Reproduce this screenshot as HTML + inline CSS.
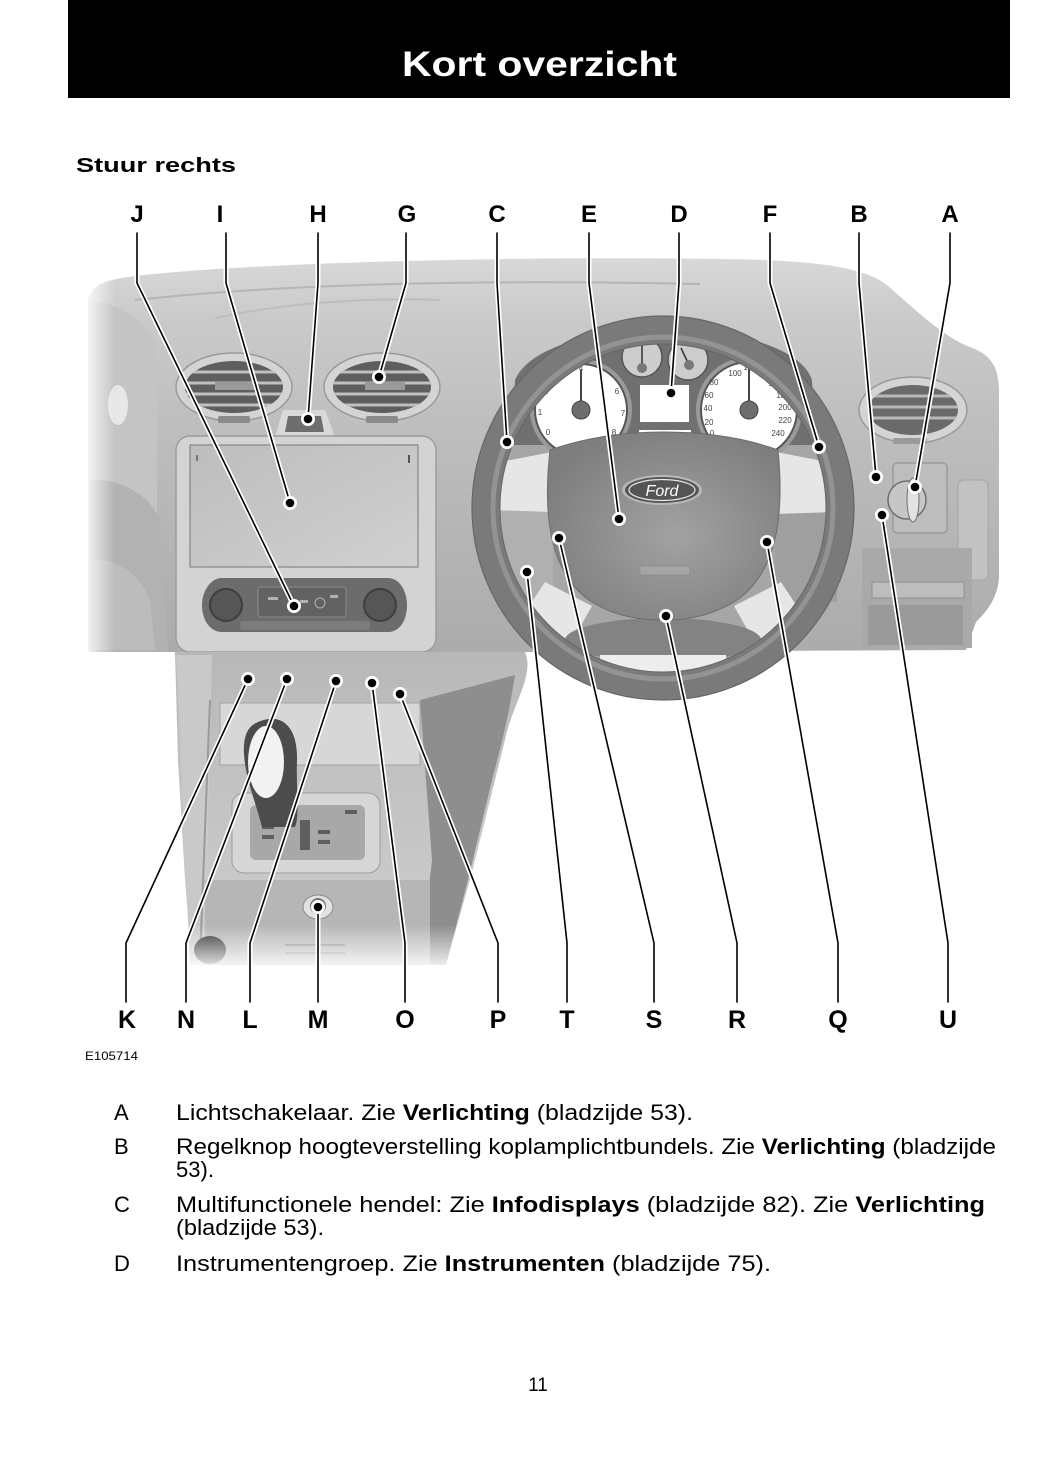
<!DOCTYPE html>
<html><head><meta charset="utf-8"><style>
html,body{margin:0;padding:0;background:#fff;}
svg{display:block;}
text{font-family:"Liberation Sans",Arial,sans-serif;}
</style></head><body>
<svg width="1047" height="1480" viewBox="0 0 1047 1480" xmlns="http://www.w3.org/2000/svg">
<defs>
<linearGradient id="dash" x1="0" y1="258" x2="0" y2="655" gradientUnits="userSpaceOnUse">
<stop offset="0" stop-color="#d8d8d8"/><stop offset="0.15" stop-color="#cacaca"/><stop offset="0.45" stop-color="#bdbdbd"/><stop offset="1" stop-color="#ababab"/></linearGradient>
<linearGradient id="fadeL" x1="0" x2="1"><stop offset="0" stop-color="#fff" stop-opacity="0.9"/><stop offset="1" stop-color="#fff" stop-opacity="0"/></linearGradient>
<linearGradient id="fadeB" x1="0" y1="0" x2="0" y2="1"><stop offset="0" stop-color="#fff" stop-opacity="0"/><stop offset="1" stop-color="#fff" stop-opacity="1"/></linearGradient>
<linearGradient id="cons" x1="0" y1="650" x2="0" y2="965" gradientUnits="userSpaceOnUse"><stop offset="0" stop-color="#b8b8b8"/><stop offset="1" stop-color="#cfcfcf"/></linearGradient>
<linearGradient id="screen" x1="0" y1="0" x2="1" y2="1"><stop offset="0" stop-color="#bdbdbd"/><stop offset="1" stop-color="#d0d0d0"/></linearGradient>
<radialGradient id="hub" cx="0.55" cy="0.55" r="0.6"><stop offset="0" stop-color="#a2a2a2"/><stop offset="1" stop-color="#7e7e7e"/></radialGradient>
<clipPath id="v1"><ellipse cx="234" cy="387" rx="49" ry="26"/></clipPath>
<clipPath id="v2"><ellipse cx="382" cy="387" rx="49" ry="26"/></clipPath>
<clipPath id="v3"><ellipse cx="913" cy="410" rx="45" ry="25"/></clipPath>
</defs>

<!-- header -->
<rect x="68" y="0" width="942" height="98" fill="#000"/>
<text x="402" y="76" font-size="35" font-weight="bold" fill="#fff" textLength="275" lengthAdjust="spacingAndGlyphs">Kort overzicht</text>
<text x="76" y="172" font-size="20" font-weight="bold" fill="#000" textLength="160" lengthAdjust="spacingAndGlyphs">Stuur rechts</text>

<!-- dash body -->
<path d="M88,300 C92,284 105,280 135,276 C260,262 520,256 720,259 C810,260 865,266 888,286 C918,312 945,338 970,347 C992,355 999,368 999,392 L999,578 C997,600 986,612 976,622 L966,650 L525,652 L175,652 L88,652 Z" fill="url(#dash)"/>
<path d="M88,300 C100,300 140,310 157,345 L157,652 L88,652 Z" fill="#c4c4c4"/>
<path d="M90,480 C120,478 150,495 160,520 L168,652 L90,652 Z" fill="#b2b2b2"/>
<path d="M95,560 C120,560 140,575 150,600 L155,650 L95,650 Z" fill="#bcbcbc"/>
<ellipse cx="118" cy="405" rx="10" ry="20" fill="#fff" opacity="0.6"/>
<rect x="85" y="270" width="30" height="385" fill="url(#fadeL)"/>
<path d="M135,300 C300,282 500,280 700,284" stroke="#b5b5b5" stroke-width="2" fill="none"/>
<path d="M215,318 C300,300 380,298 440,300" stroke="#bdbdbd" stroke-width="2" fill="none"/>

<!-- vents -->
<ellipse cx="234" cy="387" rx="58" ry="34" fill="#d4d4d4" stroke="#9a9a9a" stroke-width="1.5"/>
<ellipse cx="234" cy="387" rx="49" ry="26" fill="#5e5e5e"/>
<g clip-path="url(#v1)" stroke="#c0c0c0" stroke-width="3"><line x1="180" y1="372" x2="290" y2="372"/><line x1="180" y1="383" x2="290" y2="383"/><line x1="180" y1="394" x2="290" y2="394"/><line x1="180" y1="405" x2="290" y2="405"/><rect x="215" y="382" width="40" height="8" fill="#9a9a9a" stroke="none"/></g>
<rect x="218" y="416" width="32" height="7" rx="2" fill="#8a8a8a"/>
<ellipse cx="382" cy="387" rx="58" ry="34" fill="#d4d4d4" stroke="#9a9a9a" stroke-width="1.5"/>
<ellipse cx="382" cy="387" rx="49" ry="26" fill="#5e5e5e"/>
<g clip-path="url(#v2)" stroke="#c0c0c0" stroke-width="3"><line x1="330" y1="372" x2="440" y2="372"/><line x1="330" y1="383" x2="440" y2="383"/><line x1="330" y1="394" x2="440" y2="394"/><line x1="330" y1="405" x2="440" y2="405"/><rect x="365" y="382" width="40" height="8" fill="#9a9a9a" stroke="none"/></g>
<rect x="366" y="416" width="32" height="7" rx="2" fill="#8a8a8a"/>
<path d="M275,437 L283,410 L325,410 L335,437 Z" fill="#d9d9d9"/>
<path d="M285,432 L288,416 L321,416 L324,432 Z" fill="#6e6e6e"/>

<!-- center stack -->
<rect x="176" y="436" width="260" height="216" rx="14" fill="#d3d3d3" stroke="#9c9c9c" stroke-width="1.5"/>
<rect x="190" y="445" width="228" height="122" fill="url(#screen)" stroke="#777" stroke-width="1"/>
<rect x="196" y="455" width="2" height="6" fill="#777"/><rect x="408" y="455" width="2" height="8" fill="#555"/>
<path d="M222,578 L388,578 C400,578 407,592 407,605 C407,620 400,632 388,632 L222,632 C210,632 202,620 202,605 C202,592 210,578 222,578 Z" fill="#6c6c6c"/>
<circle cx="226" cy="605" r="16" fill="#565656" stroke="#3e3e3e" stroke-width="2"/>
<circle cx="380" cy="605" r="16" fill="#565656" stroke="#3e3e3e" stroke-width="2"/>
<rect x="258" y="587" width="88" height="30" rx="3" fill="#626262" stroke="#8a8a8a" stroke-width="1"/>
<g fill="#b0b0b0"><rect x="268" y="597" width="10" height="3"/><rect x="300" y="600" width="8" height="3"/><circle cx="320" cy="603" r="5" fill="none" stroke="#b0b0b0"/><rect x="330" y="595" width="8" height="3"/></g>
<rect x="240" y="621" width="130" height="9" rx="3" fill="#7c7c7c"/>

<!-- switch strip -->
<rect x="203" y="657" width="220" height="36" fill="#c7c7c7" stroke="#9a9a9a" stroke-width="1"/>
<rect x="210" y="670" width="18" height="14" fill="#b7b7b7"/>
<g fill="#bdbdbd" stroke="#7d7d7d" stroke-width="1.2">
<rect x="235" y="662" width="32" height="30"/><rect x="268" y="662" width="34" height="30"/><rect x="320" y="662" width="33" height="30"/><rect x="355" y="662" width="33" height="30"/></g>
<rect x="303" y="663" width="14" height="28" fill="#555"/>
<g stroke="#ccc" stroke-width="1.5"><line x1="305" y1="668" x2="315" y2="668"/><line x1="305" y1="673" x2="315" y2="673"/><line x1="305" y1="678" x2="315" y2="678"/><line x1="305" y1="683" x2="315" y2="683"/><line x1="305" y1="688" x2="315" y2="688"/></g>
<rect x="392" y="665" width="21" height="26" fill="#dadada" stroke="#999"/>
<rect x="395" y="679" width="13" height="5" fill="#777"/>

<!-- console -->
<path d="M175,652 L525,652 C535,675 512,705 505,740 L470,880 L446,965 L192,965 L185,880 L178,760 Z" fill="url(#cons)"/>
<path d="M420,700 L515,675 C508,720 500,750 492,780 L468,880 L446,965 L420,965 L432,860 Z" fill="#8e8e8e"/>
<path d="M176,655 L212,655 L205,965 L190,965 Z" fill="#c9c9c9"/>
<line x1="210" y1="700" x2="200" y2="960" stroke="#9a9a9a" stroke-width="2"/>
<rect x="220" y="703" width="200" height="62" fill="#d7d7d7" stroke="#a3a3a3"/>
<rect x="232" y="793" width="148" height="80" rx="12" fill="#d6d6d6" stroke="#9d9d9d"/>
<rect x="250" y="805" width="115" height="55" rx="6" fill="#a8a8a8"/>
<g fill="#5e5e5e"><rect x="262" y="815" width="12" height="4"/><rect x="262" y="825" width="12" height="4"/><rect x="262" y="835" width="12" height="4"/><rect x="300" y="820" width="10" height="30"/><rect x="318" y="830" width="12" height="4"/><rect x="318" y="840" width="12" height="4"/><rect x="345" y="810" width="12" height="4"/></g>
<path d="M258,722 C280,712 298,725 297,760 C296,790 300,815 295,827 L262,827 C255,800 246,780 244,755 C243,735 248,726 258,722 Z" fill="#4c4c4c"/>
<ellipse cx="266" cy="762" rx="18" ry="36" fill="#f2f2f2"/>
<rect x="205" y="880" width="225" height="85" fill="#b6b6b6"/>
<ellipse cx="318" cy="907" rx="15" ry="12" fill="#e2e2e2" stroke="#8a8a8a"/>
<circle cx="318" cy="906" r="8" fill="#777"/>
<g stroke="#8f8f8f" stroke-width="2"><line x1="285" y1="945" x2="345" y2="945"/><line x1="285" y1="953" x2="345" y2="953"/></g>
<ellipse cx="210" cy="950" rx="16" ry="14" fill="#333"/>
<rect x="180" y="925" width="280" height="48" fill="url(#fadeB)"/>

<!-- right side -->
<ellipse cx="913" cy="410" rx="54" ry="33" fill="#d4d4d4" stroke="#999" stroke-width="1.5"/>
<ellipse cx="913" cy="410" rx="45" ry="25" fill="#6a6a6a"/>
<g clip-path="url(#v3)" stroke="#b8b8b8" stroke-width="3"><line x1="860" y1="396" x2="965" y2="396"/><line x1="860" y1="407" x2="965" y2="407"/><line x1="860" y1="418" x2="965" y2="418"/></g>
<rect x="893" y="438" width="34" height="6" rx="2" fill="#9a9a9a"/>
<rect x="893" y="463" width="54" height="70" rx="4" fill="#bdbdbd" stroke="#8a8a8a"/>
<circle cx="907" cy="500" r="19" fill="#c6c6c6" stroke="#6f6f6f" stroke-width="1.5"/>
<ellipse cx="913" cy="500" rx="6" ry="22" fill="#e2e2e2" stroke="#6f6f6f"/>
<rect x="958" y="480" width="30" height="100" rx="6" fill="#c2c2c2" stroke="#a5a5a5"/>
<rect x="862" y="548" width="110" height="100" fill="#a9a9a9"/>
<rect x="872" y="582" width="92" height="16" fill="#bdbdbd" stroke="#8f8f8f"/>
<rect x="868" y="605" width="95" height="40" fill="#9a9a9a"/>

<!-- inside wheel -->
<ellipse cx="663" cy="508" rx="170" ry="172" fill="#a6a6a6"/>
<path d="M512,445 L515,380 C530,345 600,330 663,328 C730,330 800,345 812,380 L815,445 Z" fill="#707070"/>
<circle cx="581" cy="410" r="51" fill="#9a9a9a"/>
<circle cx="581" cy="410" r="46" fill="#fff" stroke="#555" stroke-width="2"/>
<circle cx="749" cy="410" r="53" fill="#9a9a9a"/>
<circle cx="749" cy="410" r="48" fill="#fff" stroke="#555" stroke-width="2"/>
<circle cx="642" cy="357" r="20" fill="#cdcdcd" stroke="#555" stroke-width="1.5"/>
<circle cx="688" cy="360" r="20" fill="#cdcdcd" stroke="#555" stroke-width="1.5"/>
<line x1="642" y1="368" x2="642" y2="343" stroke="#333" stroke-width="1.5"/><circle cx="642" cy="368" r="5" fill="#777"/>
<line x1="689" y1="365" x2="681" y2="348" stroke="#333" stroke-width="1.5"/><circle cx="689" cy="365" r="5" fill="#777"/>
<rect x="640" y="385" width="49" height="37" fill="#fff"/>
<rect x="639" y="430" width="52" height="14" fill="#fff"/>
<g font-size="8" fill="#444" text-anchor="middle">
<text x="548" y="435">0</text><text x="540" y="415">1</text><text x="546" y="394">2</text><text x="560" y="378">3</text><text x="581" y="371">4</text><text x="617" y="394">6</text><text x="623" y="416">7</text><text x="614" y="435">8</text>
<text x="712" y="436">0</text><text x="709" y="425">20</text><text x="708" y="411">40</text><text x="709" y="398">60</text><text x="714" y="385">80</text><text x="735" y="376">100</text><text x="750" y="370">120</text><text x="767" y="376">140</text><text x="775" y="386">160</text><text x="783" y="398">180</text><text x="785" y="410">200</text><text x="785" y="423">220</text><text x="778" y="436">240</text></g>
<line x1="581" y1="410" x2="581" y2="370" stroke="#444" stroke-width="2"/><circle cx="581" cy="410" r="9" fill="#6e6e6e" stroke="#444"/>
<line x1="749" y1="410" x2="749" y2="370" stroke="#444" stroke-width="2"/><circle cx="749" cy="410" r="9" fill="#6e6e6e" stroke="#444"/>
<rect x="490" y="508" width="63" height="95" fill="#b0b0b0"/>
<rect x="775" y="510" width="62" height="92" fill="#9f9f9f"/>
<path d="M500,462 L552,452 L552,512 L492,510 L489,485 Z" fill="#e6e6e6"/>
<path d="M776,452 L828,462 L837,488 L835,512 L776,514 Z" fill="#e6e6e6"/>
<path d="M545,582 L592,606 L566,652 L520,620 Z" fill="#e6e6e6"/>
<path d="M781,582 L734,606 L760,652 L806,620 Z" fill="#e6e6e6"/>
<ellipse cx="663" cy="640" rx="98" ry="22" fill="#838383"/>
<rect x="600" y="655" width="126" height="25" fill="#ededed"/>
<path d="M550,450 C590,436 630,432 663,432 C700,432 740,436 778,450 C785,520 775,570 740,598 C715,615 690,620 663,620 C636,620 610,615 586,598 C552,570 542,520 550,450 Z" fill="url(#hub)" stroke="#6c6c6c" stroke-width="1"/>
<ellipse cx="662" cy="490" rx="40" ry="15" fill="#b9b9b9"/>
<ellipse cx="662" cy="490" rx="37" ry="13" fill="#555"/>
<ellipse cx="662" cy="490" rx="33" ry="10.5" fill="none" stroke="#e8e8e8" stroke-width="1.2"/>
<text x="662" y="496" font-family="Liberation Serif,serif" font-style="italic" font-size="16" fill="#fff" text-anchor="middle">Ford</text>
<rect x="640" y="566" width="50" height="9" rx="2" fill="#a5a5a5" stroke="#8a8a8a" stroke-width="0.8"/>
<ellipse cx="663" cy="508" rx="177" ry="178" fill="none" stroke="#7a7a7a" stroke-width="28"/>
<ellipse cx="663" cy="508" rx="170" ry="171" fill="none" stroke="#939393" stroke-width="5"/>
<ellipse cx="663" cy="508" rx="191" ry="192" fill="none" stroke="#666" stroke-width="1.2"/>
<ellipse cx="663" cy="508" rx="163" ry="164" fill="none" stroke="#666" stroke-width="1"/>

<!-- leaders -->
<g fill="none" stroke-linejoin="round" stroke-linecap="round">
<g stroke="#fff" stroke-width="5">
<polyline points="137,236 137,283 294,606"/><polyline points="226,236 226,283 290,503"/><polyline points="318,236 318,283 308,419"/><polyline points="406,236 406,283 379,377"/><polyline points="497,236 497,283 507,442"/><polyline points="589,236 589,283 619,519"/><polyline points="679,236 679,283 671,393"/><polyline points="770,236 770,283 819,447"/><polyline points="859,236 859,283 876,477"/><polyline points="950,236 950,283 915,487"/>
<polyline points="126,1000 126,943 248,679"/><polyline points="186,1000 186,943 287,679"/><polyline points="250,1000 250,943 336,681"/><polyline points="318,1000 318,907"/><polyline points="405,1000 405,943 372,683"/><polyline points="498,1000 498,943 400,694"/><polyline points="567,1000 567,943 527,572"/><polyline points="654,1000 654,943 559,538"/><polyline points="737,1000 737,943 666,616"/><polyline points="838,1000 838,943 767,542"/><polyline points="948,1000 948,943 882,515"/>
</g>
<g stroke="#000" stroke-width="1.6">
<polyline points="137,233 137,283 294,606"/><polyline points="226,233 226,283 290,503"/><polyline points="318,233 318,283 308,419"/><polyline points="406,233 406,283 379,377"/><polyline points="497,233 497,283 507,442"/><polyline points="589,233 589,283 619,519"/><polyline points="679,233 679,283 671,393"/><polyline points="770,233 770,283 819,447"/><polyline points="859,233 859,283 876,477"/><polyline points="950,233 950,283 915,487"/>
<polyline points="126,1002 126,943 248,679"/><polyline points="186,1002 186,943 287,679"/><polyline points="250,1002 250,943 336,681"/><polyline points="318,1002 318,907"/><polyline points="405,1002 405,943 372,683"/><polyline points="498,1002 498,943 400,694"/><polyline points="567,1002 567,943 527,572"/><polyline points="654,1002 654,943 559,538"/><polyline points="737,1002 737,943 666,616"/><polyline points="838,1002 838,943 767,542"/><polyline points="948,1002 948,943 882,515"/>
</g></g>
<g fill="#fff">
<circle cx="294" cy="606" r="7"/><circle cx="290" cy="503" r="7"/><circle cx="308" cy="419" r="7"/><circle cx="379" cy="377" r="7"/><circle cx="507" cy="442" r="7"/><circle cx="619" cy="519" r="7"/><circle cx="671" cy="393" r="7"/><circle cx="819" cy="447" r="7"/><circle cx="876" cy="477" r="7"/><circle cx="915" cy="487" r="7"/>
<circle cx="248" cy="679" r="7"/><circle cx="287" cy="679" r="7"/><circle cx="336" cy="681" r="7"/><circle cx="318" cy="907" r="7"/><circle cx="372" cy="683" r="7"/><circle cx="400" cy="694" r="7"/><circle cx="527" cy="572" r="7"/><circle cx="559" cy="538" r="7"/><circle cx="666" cy="616" r="7"/><circle cx="767" cy="542" r="7"/><circle cx="882" cy="515" r="7"/></g>
<g fill="#000">
<circle cx="294" cy="606" r="4.3"/><circle cx="290" cy="503" r="4.3"/><circle cx="308" cy="419" r="4.3"/><circle cx="379" cy="377" r="4.3"/><circle cx="507" cy="442" r="4.3"/><circle cx="619" cy="519" r="4.3"/><circle cx="671" cy="393" r="4.3"/><circle cx="819" cy="447" r="4.3"/><circle cx="876" cy="477" r="4.3"/><circle cx="915" cy="487" r="4.3"/>
<circle cx="248" cy="679" r="4.3"/><circle cx="287" cy="679" r="4.3"/><circle cx="336" cy="681" r="4.3"/><circle cx="318" cy="907" r="4.3"/><circle cx="372" cy="683" r="4.3"/><circle cx="400" cy="694" r="4.3"/><circle cx="527" cy="572" r="4.3"/><circle cx="559" cy="538" r="4.3"/><circle cx="666" cy="616" r="4.3"/><circle cx="767" cy="542" r="4.3"/><circle cx="882" cy="515" r="4.3"/></g>

<!-- callout letters -->
<g font-size="24" font-weight="bold" text-anchor="middle" fill="#000">
<text x="137" y="222">J</text><text x="220" y="222">I</text><text x="318" y="222">H</text><text x="407" y="222">G</text><text x="497" y="222">C</text><text x="589" y="222">E</text><text x="679" y="222">D</text><text x="770" y="222">F</text><text x="859" y="222">B</text><text x="950" y="222">A</text>
</g>
<g font-size="25" font-weight="bold" text-anchor="middle" fill="#000">
<text x="127" y="1028">K</text><text x="186" y="1028">N</text><text x="250" y="1028">L</text><text x="318" y="1028">M</text><text x="405" y="1028">O</text><text x="498" y="1028">P</text><text x="567" y="1028">T</text><text x="654" y="1028">S</text><text x="737" y="1028">R</text><text x="838" y="1028">Q</text><text x="948" y="1028">U</text>
</g>
<text x="85" y="1060" font-size="12" fill="#000" textLength="53" lengthAdjust="spacingAndGlyphs">E105714</text>

<!-- list -->
<g font-size="22" fill="#000" style="white-space:pre">
<text x="114" y="1120">A</text>
<text x="176" y="1120" textLength="517" lengthAdjust="spacingAndGlyphs">Lichtschakelaar.  Zie <tspan font-weight="bold">Verlichting</tspan> (bladzijde 53).</text>
<text x="114" y="1154">B</text>
<text x="176" y="1154" textLength="820" lengthAdjust="spacingAndGlyphs">Regelknop hoogteverstelling koplamplichtbundels.  Zie <tspan font-weight="bold">Verlichting</tspan> (bladzijde</text>
<text x="176" y="1177" textLength="38" lengthAdjust="spacingAndGlyphs">53).</text>
<text x="114" y="1212">C</text>
<text x="176" y="1212" textLength="809" lengthAdjust="spacingAndGlyphs">Multifunctionele hendel:  Zie <tspan font-weight="bold">Infodisplays</tspan> (bladzijde 82).  Zie <tspan font-weight="bold">Verlichting</tspan></text>
<text x="176" y="1235" textLength="148" lengthAdjust="spacingAndGlyphs">(bladzijde 53).</text>
<text x="114" y="1271">D</text>
<text x="176" y="1271" textLength="595" lengthAdjust="spacingAndGlyphs">Instrumentengroep.  Zie <tspan font-weight="bold">Instrumenten</tspan> (bladzijde 75).</text>
</g>
<text x="538" y="1391" font-size="19" text-anchor="middle" fill="#000">11</text>
</svg>
</body></html>
